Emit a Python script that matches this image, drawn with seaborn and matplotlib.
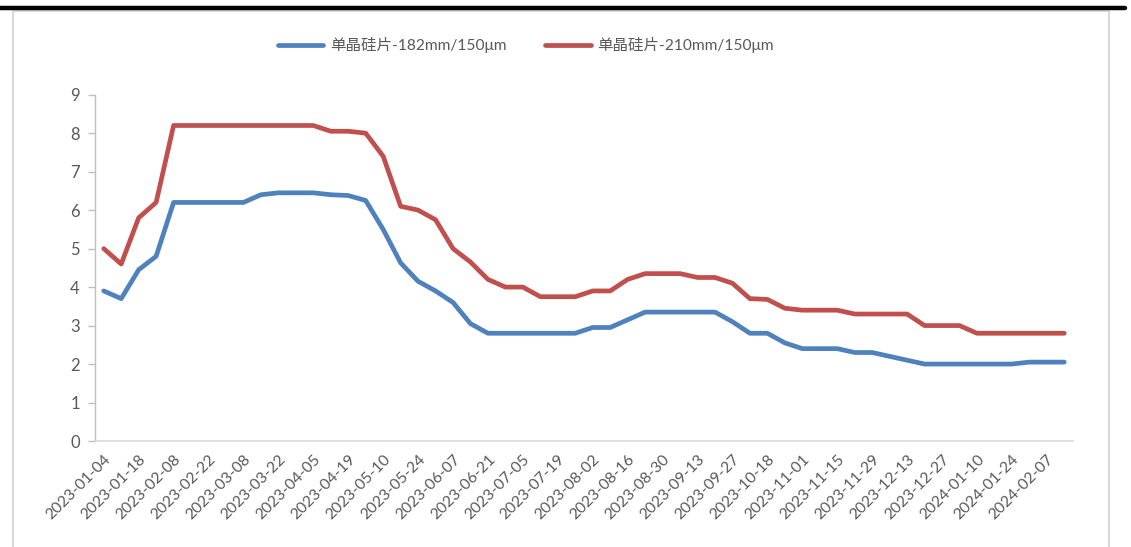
import matplotlib
matplotlib.use("Agg")
import matplotlib.pyplot as plt
from matplotlib.lines import Line2D
from matplotlib.patches import Rectangle
import pandas as pd
import seaborn as sns

# Weekly quote dates (holiday weeks absent)
dates = [
    "2023-01-04", "2023-01-11", "2023-01-18", "2023-02-01", "2023-02-08", "2023-02-15",
    "2023-02-22", "2023-03-01", "2023-03-08", "2023-03-15", "2023-03-22", "2023-03-29",
    "2023-04-05", "2023-04-12", "2023-04-19", "2023-04-26", "2023-05-10", "2023-05-17",
    "2023-05-24", "2023-05-31", "2023-06-07", "2023-06-14", "2023-06-21", "2023-06-28",
    "2023-07-05", "2023-07-12", "2023-07-19", "2023-07-26", "2023-08-02", "2023-08-09",
    "2023-08-16", "2023-08-23", "2023-08-30", "2023-09-06", "2023-09-13", "2023-09-20",
    "2023-09-27", "2023-10-11", "2023-10-18", "2023-10-25", "2023-11-01", "2023-11-08",
    "2023-11-15", "2023-11-22", "2023-11-29", "2023-12-06", "2023-12-13", "2023-12-20",
    "2023-12-27", "2024-01-03", "2024-01-10", "2024-01-17", "2024-01-24", "2024-01-31",
    "2024-02-07", "2024-02-14",
]

name_182 = "单晶硅片-182mm/150μm"
name_210 = "单晶硅片-210mm/150μm"

price_182 = [
    3.90, 3.70, 4.45, 4.80, 6.20, 6.20, 6.20, 6.20, 6.20, 6.40, 6.45, 6.45,
    6.45, 6.40, 6.38, 6.25, 5.50, 4.63, 4.15, 3.90, 3.60, 3.05, 2.80, 2.80,
    2.80, 2.80, 2.80, 2.80, 2.95, 2.95, 3.15, 3.35, 3.35, 3.35, 3.35, 3.35,
    3.10, 2.80, 2.80, 2.55, 2.40, 2.40, 2.40, 2.30, 2.30, 2.20, 2.10, 2.00,
    2.00, 2.00, 2.00, 2.00, 2.00, 2.05, 2.05, 2.05,
]

price_210 = [
    5.00, 4.60, 5.80, 6.20, 8.20, 8.20, 8.20, 8.20, 8.20, 8.20, 8.20, 8.20,
    8.20, 8.05, 8.05, 8.00, 7.40, 6.10, 6.00, 5.75, 5.00, 4.65, 4.20, 4.00,
    4.00, 3.75, 3.75, 3.75, 3.90, 3.90, 4.20, 4.35, 4.35, 4.35, 4.25, 4.25,
    4.10, 3.70, 3.68, 3.45, 3.40, 3.40, 3.40, 3.30, 3.30, 3.30, 3.30, 3.00,
    3.00, 3.00, 2.80, 2.80, 2.80, 2.80, 2.80, 2.80,
]

y_ticks = [0, 1, 2, 3, 4, 5, 6, 7, 8, 9]

df = pd.DataFrame({
    "date": dates * 2,
    "pos": list(range(len(dates))) * 2,
    "price": price_182 + price_210,
    "series": [name_182] * len(dates) + [name_210] * len(dates),
})

sns.set_theme(style="white")
plt.rcParams["font.family"] = ["Lato", "Noto Sans CJK SC", "DejaVu Sans"]

W, H = 1131, 547
fig = plt.figure(figsize=(W / 100, H / 100), dpi=100)
ax = fig.add_axes([95 / W, 1 - 441 / H, (1073 - 95) / W, (441 - 94.7) / H])

palette = {name_182: "#4F81BD", name_210: "#C0504D"}
sns.lineplot(data=df, x="pos", y="price", hue="series", palette=palette,
             linewidth=3.4, sort=False, ax=ax, legend=False)
for ln in ax.get_lines():
    ln.set_solid_capstyle("round")
    ln.set_solid_joinstyle("round")

ax.set_xlim(-0.5, len(dates) - 0.5)
ax.set_ylim(0, 9)
ax.set_yticks(y_ticks)
ax.set_yticklabels([str(v) for v in y_ticks])
ax.set_xticks(range(0, len(dates), 2))
ax.set_xticklabels(dates[::2], rotation=45, ha="right", rotation_mode="anchor")
ax.set_xlabel("")
ax.set_ylabel("")

gray_txt = "#595959"
ax.tick_params(axis="y", length=5, width=1, color="#BFBFBF", labelsize=12,
               labelcolor=gray_txt, pad=6, left=True, direction="out")
ax.tick_params(axis="x", length=0, labelsize=11.3, labelcolor=gray_txt, pad=8)

for side in ["top", "right"]:
    ax.spines[side].set_visible(False)
ax.spines["left"].set_color("#BFBFBF")
ax.spines["bottom"].set_color("#D9D9D9")
ax.spines["left"].set_linewidth(1)
ax.spines["bottom"].set_linewidth(1.2)
ax.grid(False)

# Legend across the top
handles = [Line2D([0], [0], color=palette[n], lw=3.4, solid_capstyle="round") for n in (name_182, name_210)]
fig.legend(handles, [name_182, name_210], loc="center", ncol=2,
           bbox_to_anchor=(526 / W, 1 - 45 / H), frameon=False,
           fontsize=11.2, labelcolor=gray_txt, handlelength=2.9,
           columnspacing=2.5, handletextpad=0.45)

# Chart frame and the black rule along the top
fig.add_artist(Rectangle((13 / W, -0.05), (1109 - 13) / W, 1.05 - 11 / H,
                         transform=fig.transFigure, fill=False,
                         edgecolor="#D9D9D9", lw=1.5))
fig.add_artist(Line2D([0, 1125 / W], [1 - 8 / H, 1 - 8 / H],
                      transform=fig.transFigure, color="black", lw=3.2))

fig.savefig("out.png", dpi=100, facecolor="white")
